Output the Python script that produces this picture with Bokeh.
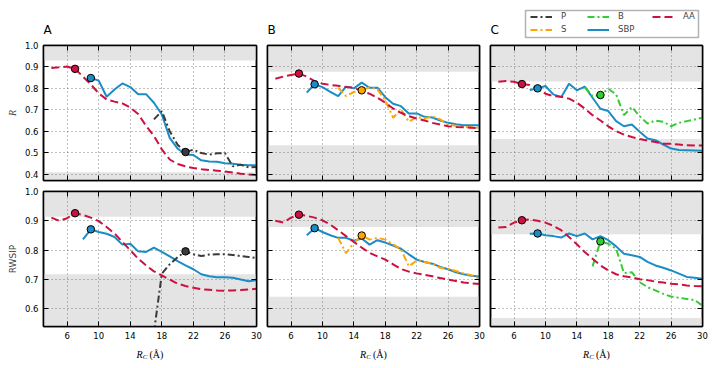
from bokeh.plotting import figure
from bokeh.layouts import column, row
from bokeh.models import (Range1d, LinearAxis, BoxAnnotation, FixedTicker,
                          Legend, LegendItem, PrintfTickFormatter)
from bokeh.embed import file_html
from bokeh.resources import INLINE
from bokeh.core.properties import value

# ---------------- data ----------------
rc_aa = list(range(4, 31))
rc_sbp = list(range(8, 31))
rc_sbp_a_r = list(range(9, 31))
rc_p = list(range(17, 31))
rc_s = list(range(12, 31))
rc_b_r = list(range(15, 31))
rc_b_w = list(range(16, 31))

x_ticks = [6, 10, 14, 18, 22, 26, 30]
r_ticks = [0.4, 0.5, 0.6, 0.7, 0.8, 0.9, 1.0]
w_ticks = [0.6, 0.7, 0.8, 0.9, 1.0]
x_lim = [3, 30]
r_lim = [0.37, 1.0]
w_lim = [0.54, 1.0]

# panel A, R
a_r_aa = [0.895, 0.898, 0.902, 0.891, 0.855, 0.818, 0.777, 0.748, 0.738, 0.730, 0.710,
          0.680, 0.625, 0.578, 0.515, 0.468, 0.447, 0.436, 0.428, 0.423, 0.419, 0.416,
          0.412, 0.407, 0.402, 0.398, 0.395]
a_r_sbp = [0.848, 0.836, 0.761, 0.795, 0.823, 0.806, 0.772, 0.773, 0.733, 0.678, 0.569,
           0.519, 0.491, 0.489, 0.464, 0.459, 0.458, 0.451, 0.448, 0.444, 0.441, 0.441]
a_r_p = [0.655, 0.694, 0.600, 0.537, 0.503, 0.514, 0.498, 0.491, 0.497, 0.498, 0.436,
         0.444, 0.431, 0.433]
# panel A, RWSIP
a_w_aa = [0.911, 0.900, 0.909, 0.926, 0.920, 0.911, 0.899, 0.879, 0.857, 0.828, 0.800,
          0.771, 0.748, 0.728, 0.714, 0.700, 0.686, 0.678, 0.672, 0.667, 0.665, 0.663,
          0.662, 0.663, 0.664, 0.666, 0.669]
a_w_sbp = [0.837, 0.871, 0.862, 0.856, 0.845, 0.819, 0.822, 0.796, 0.794, 0.809, 0.794,
           0.779, 0.763, 0.748, 0.735, 0.718, 0.711, 0.708, 0.708, 0.706, 0.700, 0.694,
           0.698]
a_w_p = [0.520, 0.720, 0.752, 0.776, 0.796, 0.786, 0.780, 0.785, 0.786, 0.786, 0.784,
         0.780, 0.777, 0.773]
# panel B, R
b_r_aa = [0.845, 0.855, 0.862, 0.869, 0.855, 0.834, 0.822, 0.816, 0.812, 0.806, 0.803,
          0.787, 0.775, 0.756, 0.733, 0.706, 0.686, 0.670, 0.659, 0.650, 0.639, 0.631,
          0.623, 0.620, 0.618, 0.616, 0.613]
b_r_sbp = [0.780, 0.819, 0.806, 0.784, 0.764, 0.808, 0.800, 0.827, 0.803, 0.803, 0.759,
           0.728, 0.717, 0.683, 0.683, 0.667, 0.664, 0.650, 0.639, 0.632, 0.628, 0.628,
           0.628]
b_r_s = [0.803, 0.764, 0.783, 0.791, 0.806, 0.795, 0.744, 0.663, 0.702, 0.644, 0.666,
         0.659, 0.670, 0.655, 0.631, 0.626, 0.620, 0.617, 0.616]
# panel B, RWSIP
b_w_aa = [0.900, 0.894, 0.911, 0.921, 0.917, 0.911, 0.902, 0.887, 0.868, 0.848, 0.828,
          0.809, 0.791, 0.779, 0.768, 0.752, 0.736, 0.727, 0.721, 0.716, 0.711, 0.705,
          0.700, 0.695, 0.690, 0.687, 0.685]
b_w_sbp = [0.851, 0.875, 0.862, 0.851, 0.842, 0.842, 0.832, 0.840, 0.819, 0.834, 0.826,
           0.816, 0.805, 0.786, 0.768, 0.760, 0.754, 0.743, 0.735, 0.725, 0.718, 0.713,
           0.710]
b_w_s = [0.842, 0.790, 0.825, 0.850, 0.836, 0.842, 0.836, 0.820, 0.803, 0.745, 0.765,
         0.760, 0.754, 0.740, 0.736, 0.729, 0.720, 0.715, 0.703]
# panel C, R
c_r_aa = [0.831, 0.834, 0.831, 0.820, 0.816, 0.798, 0.775, 0.764, 0.761, 0.752, 0.733,
          0.706, 0.675, 0.650, 0.623, 0.600, 0.584, 0.573, 0.564, 0.556, 0.550, 0.542,
          0.541, 0.538, 0.534, 0.533, 0.533]
c_r_sbp = [0.792, 0.800, 0.811, 0.772, 0.759, 0.822, 0.791, 0.808, 0.756, 0.705, 0.694,
           0.647, 0.623, 0.631, 0.597, 0.566, 0.558, 0.538, 0.519, 0.512, 0.511, 0.510,
           0.509]
c_r_b = [0.805, 0.764, 0.769, 0.798, 0.772, 0.675, 0.713, 0.670, 0.636, 0.650, 0.644,
         0.623, 0.639, 0.647, 0.655, 0.663]
# panel C, RWSIP
c_w_aa = [0.877, 0.879, 0.894, 0.902, 0.905, 0.900, 0.894, 0.883, 0.868, 0.845, 0.820,
          0.794, 0.771, 0.748, 0.731, 0.718, 0.711, 0.707, 0.701, 0.698, 0.693, 0.690,
          0.686, 0.684, 0.680, 0.678, 0.677]
c_w_sbp = [0.856, 0.857, 0.851, 0.848, 0.843, 0.857, 0.848, 0.857, 0.837, 0.848, 0.834,
           0.813, 0.788, 0.783, 0.777, 0.760, 0.748, 0.740, 0.731, 0.720, 0.709, 0.706,
           0.703]
c_w_b = [0.745, 0.830, 0.822, 0.805, 0.722, 0.725, 0.691, 0.674, 0.663, 0.651, 0.642,
         0.638, 0.634, 0.630, 0.611]

# grey bands (upper band starts, lower band ends) for columns A, B, C
band_r_upper = [0.930, 0.877, 0.832]
band_r_lower = [0.408, 0.534, 0.564]
band_w_upper = [0.914, 0.879, 0.854]
band_w_lower = [0.718, 0.641, 0.569]

panel_titles = ["A", "B", "C"]
legend_columns = [["P", "S"], ["B", "SBP"], ["AA"]]
marker_at = {"P": 21, "S": 15, "B": 17, "SBP": 9, "AA": 7}

# ---------------- styling ----------------
colors = {"P": "#3a3a3a", "S": "#ffa500", "B": "#33cc33", "SBP": "#1a8cc6", "AA": "#cc1040"}
dashes = {"P": "7 3 2 3", "S": "7 3 2 3", "B": "7 3 2 3", "SBP": "solid", "AA": "8 4"}
LW = 2
GREY_BAND = "#e4e4e4"
FONT = "DejaVu Sans"
SERIF = "Liberation Serif"
TICK_FS = "8.5px"

PAD = 8
FRAME_H = 135
left_border = [PAD + 35, 4, 4]
right_border = [7, 7, 7]
frame_w = [213, 212, 212]


def style_axis(ax, ticks, show_labels, fmt=None):
    ax.ticker = FixedTicker(ticks=ticks)
    ax.major_tick_in = 5
    ax.major_tick_out = 0
    ax.minor_tick_line_color = None
    ax.major_tick_line_color = "black"
    ax.major_tick_line_width = 1
    ax.axis_line_color = "black"
    ax.axis_line_width = 1.5
    if fmt:
        ax.formatter = PrintfTickFormatter(format=fmt)
    if show_labels:
        ax.major_label_text_font_size = TICK_FS
        ax.major_label_text_font = FONT
        ax.major_label_text_color = "black"
        ax.major_label_standoff = 5
    else:
        ax.major_label_text_font_size = "1px"
        ax.major_label_text_color = None
        ax.major_label_standoff = 0


def panel(col, is_top, series):
    ylim = r_lim if is_top else w_lim
    yticks = r_ticks if is_top else w_ticks
    p = figure(frame_width=frame_w[col], frame_height=FRAME_H,
               x_range=Range1d(*x_lim), y_range=Range1d(*ylim),
               output_backend="svg", toolbar_location=None,
               min_border_left=left_border[col], min_border_right=right_border[col],
               min_border_top=4 if is_top else 6,
               min_border_bottom=5 if is_top else 17)
    p.outline_line_color = "black"
    p.outline_line_width = 1.5
    p.background_fill_color = "white"
    p.border_fill_color = "white"

    up = (band_r_upper if is_top else band_w_upper)[col]
    lo = (band_r_lower if is_top else band_w_lower)[col]
    p.add_layout(BoxAnnotation(bottom=up, fill_color=GREY_BAND, fill_alpha=1,
                               line_color=None, level="image"))
    p.add_layout(BoxAnnotation(top=lo, fill_color=GREY_BAND, fill_alpha=1,
                               line_color=None, level="image"))

    style_axis(p.xaxis[0], x_ticks, not is_top, "%d")
    style_axis(p.yaxis[0], yticks, col == 0, "%.1f")
    ra = LinearAxis()
    style_axis(ra, yticks, False)
    p.add_layout(ra, "right")
    ta = LinearAxis()
    style_axis(ta, x_ticks, False)
    p.add_layout(ta, "above")

    for g in (p.xgrid[0], p.ygrid[0]):
        g.grid_line_color = "#707070"
        g.grid_line_dash = "1 3"
        g.grid_line_width = 0.9
        g.level = "underlay"
    p.xgrid[0].ticker = FixedTicker(ticks=x_ticks)
    p.ygrid[0].ticker = FixedTicker(ticks=yticks)

    if col == 0:
        ax = p.yaxis[0]
        if is_top:
            ax.axis_label = "R"
            ax.axis_label_text_font = SERIF
            ax.axis_label_text_font_style = "italic"
            ax.axis_label_text_font_size = "10px"
        else:
            ax.axis_label = "RWSIP"
            ax.axis_label_text_font = FONT
            ax.axis_label_text_font_style = "normal"
            ax.axis_label_text_font_size = "9px"
        ax.axis_label_standoff = 4

    order = ["SBP", "P", "S", "B", "AA"]
    for name in order:
        if name not in series:
            continue
        xs, ys = series[name]
        p.line(xs, ys, line_color=colors[name], line_width=LW, line_dash=dashes[name])
    for name in order:
        if name not in series:
            continue
        xs, ys = series[name]
        mx = marker_at[name]
        my = ys[xs.index(mx)]
        p.scatter([mx], [my], size=7.5, fill_color=colors[name], line_color="black",
                  line_width=1)
    return p


a1 = panel(0, True, {"AA": (rc_aa, a_r_aa), "SBP": (rc_sbp_a_r, a_r_sbp), "P": (rc_p, a_r_p)})
b1 = panel(1, True, {"AA": (rc_aa, b_r_aa), "SBP": (rc_sbp, b_r_sbp), "S": (rc_s, b_r_s)})
c1 = panel(2, True, {"AA": (rc_aa, c_r_aa), "SBP": (rc_sbp, c_r_sbp), "B": (rc_b_r, c_r_b)})
a2 = panel(0, False, {"AA": (rc_aa, a_w_aa), "SBP": (rc_sbp, a_w_sbp), "P": (rc_p, a_w_p)})
b2 = panel(1, False, {"AA": (rc_aa, b_w_aa), "SBP": (rc_sbp, b_w_sbp), "S": (rc_s, b_w_s)})
c2 = panel(2, False, {"AA": (rc_aa, c_w_aa), "SBP": (rc_sbp, c_w_sbp), "B": (rc_b_w, c_w_b)})

TOTAL_W = sum(left_border) + sum(frame_w) + sum(right_border)
frame_left = []
acc = 0
for i in range(3):
    frame_left.append(acc + left_border[i])
    acc += left_border[i] + frame_w[i] + right_border[i]
frame_center = [frame_left[i] + frame_w[i] / 2 for i in range(3)]

# ---------------- header: panel letters and legend ----------------
HDR_H = PAD + 33
hdr = figure(width=TOTAL_W, height=HDR_H, x_range=Range1d(0, TOTAL_W),
             y_range=Range1d(0, HDR_H), output_backend="svg", toolbar_location=None,
             min_border=0, x_axis_type=None, y_axis_type=None)
hdr.outline_line_color = None
hdr.text(x=frame_left, y=[12, 12, 12], text=panel_titles, text_font=value(FONT),
         text_font_size="12px", text_baseline="alphabetic", text_align="left",
         text_color="black")

# legend frame (page px): left, right, bottom, top
LEG_L, LEG_R, LEG_B, LEG_T = 525, 698, 4, 31
hdr.add_layout(BoxAnnotation(left=LEG_L, right=LEG_R, bottom=LEG_B, top=LEG_T,
                             fill_color="white", fill_alpha=1, line_color="black",
                             line_width=1.5, level="underlay"))
legend_col_x = [530, 587, 652]
ROW_H = 11
ROW_GAP = 2
nan = float("nan")
for cx, names in zip(legend_col_x, legend_columns):
    items = []
    for name in names:
        r = hdr.line([nan], [nan], line_color=colors[name], line_width=LW,
                     line_dash=dashes[name])
        items.append(LegendItem(label=name, renderers=[r]))
    n = len(names)
    height = n * ROW_H + (n - 1) * ROW_GAP
    top = LEG_T - 0.5
    leg = Legend(items=items, location=(cx, top - height), orientation="vertical",
                 border_line_color=None, background_fill_alpha=0, padding=0,
                 spacing=ROW_GAP, margin=0, label_text_font_size=TICK_FS,
                 label_text_font=FONT, glyph_width=22, glyph_height=ROW_H,
                 label_height=ROW_H, label_standoff=9)
    hdr.add_layout(leg)

# ---------------- footer: x axis labels ----------------
FTR_H = 17
ftr = figure(width=TOTAL_W, height=FTR_H, x_range=Range1d(0, TOTAL_W),
             y_range=Range1d(0, FTR_H), output_backend="svg", toolbar_location=None,
             min_border=0, x_axis_type=None, y_axis_type=None)
ftr.outline_line_color = None
ftr.text(x=[c - 13.5 for c in frame_center], y=[6] * 3, text=["R"] * 3,
         text_font=value(SERIF), text_font_style="italic", text_font_size="10px",
         text_baseline="alphabetic", text_align="left")
ftr.text(x=[c - 7.3 for c in frame_center], y=[4] * 3, text=["C"] * 3,
         text_font=value(SERIF), text_font_style="italic", text_font_size="7px",
         text_baseline="alphabetic", text_align="left")
ftr.text(x=[c - 0.5 for c in frame_center], y=[6] * 3, text=["(Å)"] * 3,
         text_font=value(SERIF), text_font_size="10px",
         text_baseline="alphabetic", text_align="left")

layout = column(hdr, row(a1, b1, c1), row(a2, b2, c2), ftr)
open("out.html", "w").write(file_html(layout, INLINE))
